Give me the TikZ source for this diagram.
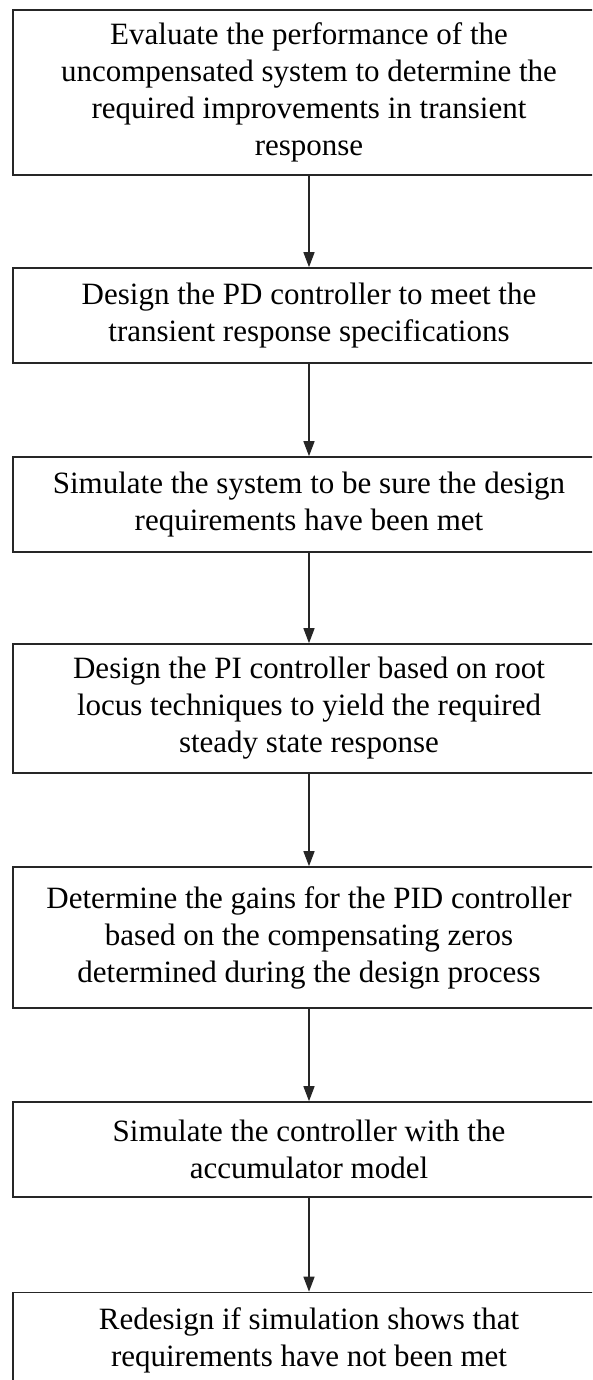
\documentclass[tikz,border=0pt]{standalone}
\usepackage{fontspec}
\setmainfont{Liberation Serif}
\usetikzlibrary{arrows.meta}

\tikzset{
  etape/.style={draw=black!85, line width=1.6pt, minimum width=592pt, inner sep=0pt,
    align=center, font=\fontsize{31}{37}\selectfont},
  fleche/.style={->, line width=1.4pt, color=black!85},
}

\begin{document}
\begin{tikzpicture}[line cap=round,>={Triangle[length=15pt,width=11pt]},x=1pt,y=-1pt]
		% Cadre
		\useasboundingbox (0,0) rectangle (592,1380);
		\clip (0,0) rectangle (592,1380);
		
		% Etapes
		\node[etape, minimum height=165pt] (eval) at (309,92.5) {Evaluate the performance of the\\uncompensated system to determine the\\required improvements in transient\\response};
		\node[etape, minimum height=95pt] (pd) at (309,315.5) {Design the PD controller to meet the\\transient response specifications};
		\node[etape, minimum height=95pt] (simsys) at (309,504.5) {Simulate the system to be sure the design\\requirements have been met};
		\node[etape, minimum height=129pt] (pi) at (309,708.5) {Design the PI controller based on root\\locus techniques to yield the required\\steady state response};
		\node[etape, minimum height=141pt] (gains) at (309,937.5) {Determine the gains for the PID controller\\based on the compensating zeros\\determined during the design process};
		\node[etape, minimum height=95pt] (simacc) at (309,1149.5) {Simulate the controller with the\\accumulator model};
		\node[etape, minimum height=95pt] (redesign) at (309,1340) {Redesign if simulation shows that\\requirements have not been met};
		
		% Fleches
		\draw[fleche] (eval) -- (pd);
		\draw[fleche] (pd) -- (simsys);
		\draw[fleche] (simsys) -- (pi);
		\draw[fleche] (pi) -- (gains);
		\draw[fleche] (gains) -- (simacc);
		\draw[fleche] (simacc) -- (redesign);
\end{tikzpicture}
\end{document}
